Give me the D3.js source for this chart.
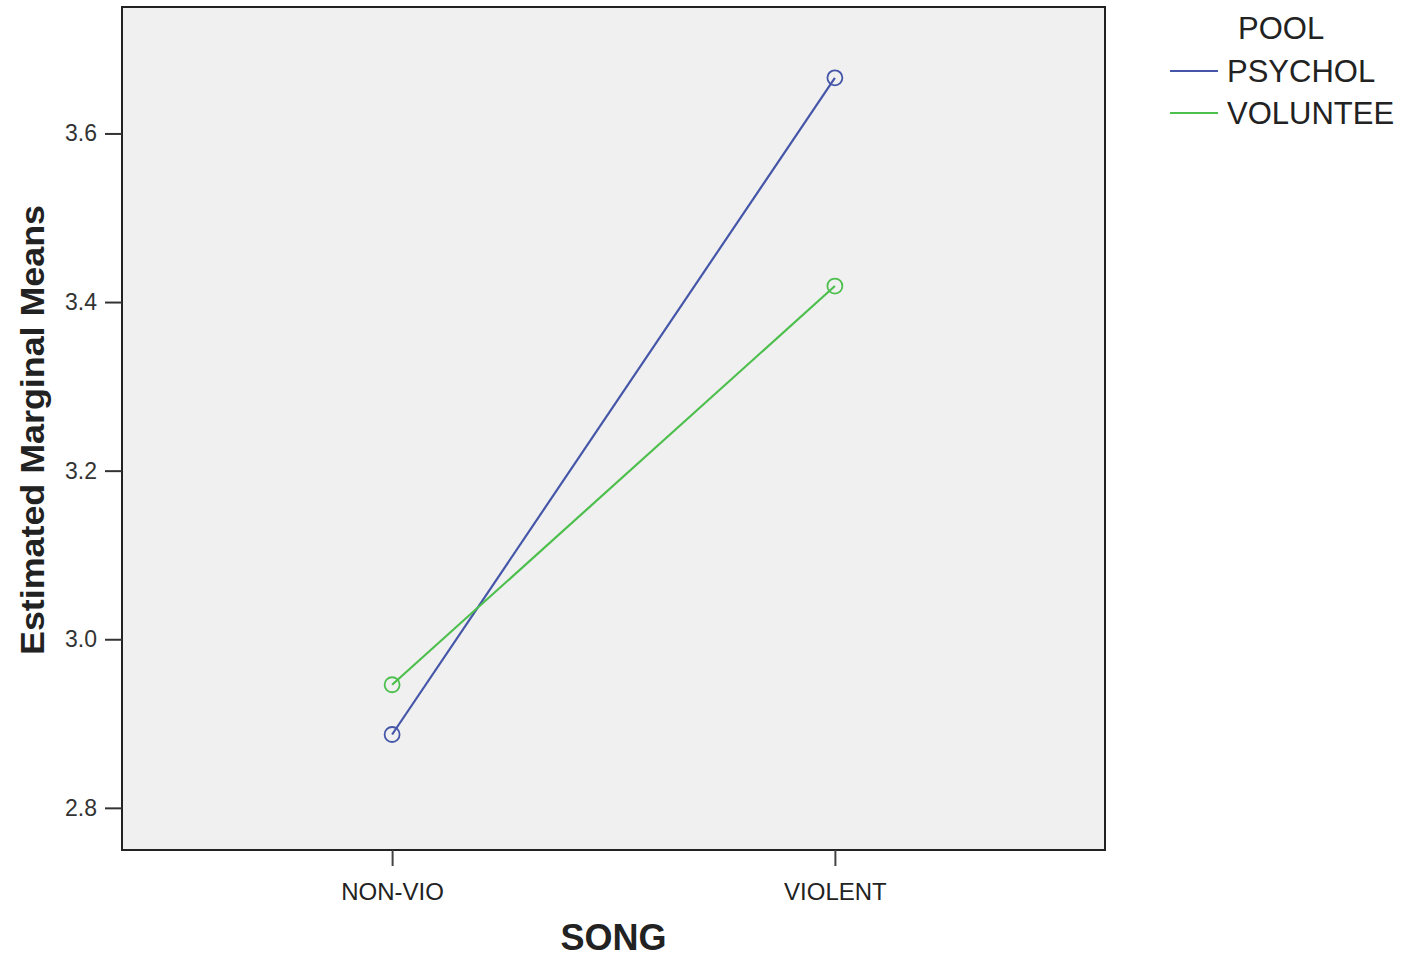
<!DOCTYPE html>
<html><head><meta charset="utf-8">
<script src="https://cdn.jsdelivr.net/npm/d3@7"></script>
<style>body{margin:0;background:#fff}svg{display:block}text{font-family:"Liberation Sans",Arial,sans-serif}</style>
</head><body>
<svg id="c" width="1409" height="957"></svg>
<script>
const categories = ["NON-VIO", "VIOLENT"];
const seriesNames = ["PSYCHOL", "VOLUNTEE"];
const psycholValues = [2.887, 3.666];
const volunteeValues = [2.946, 3.419];
const yTicks = [2.8, 3.0, 3.2, 3.4, 3.6];
const colors = ["#4556a8", "#4cbf4c"];

const svg = d3.select("#c");
const L = 122, T = 7, R = 1105, B = 850;
const x = d3.scalePoint().domain(categories).range([L, R]).padding(0.61);
const y = d3.scaleLinear().domain([2.75, 3.75]).range([B, T]);

svg.append("rect").attr("x", L).attr("y", T).attr("width", R - L).attr("height", B - T)
  .attr("fill", "#f0f0f0").attr("stroke", "#222").attr("stroke-width", 2);

const yAxis = svg.append("g").attr("transform", `translate(${L},0)`)
  .call(d3.axisLeft(y).tickValues(yTicks).tickFormat(d3.format(".1f")).tickSize(17).tickPadding(8));
yAxis.select(".domain").remove();
yAxis.selectAll("line").attr("stroke", "#333").attr("stroke-width", 2);
yAxis.selectAll("text").attr("font-size", 23).attr("fill", "#333").attr("font-family", "Liberation Sans, Arial, sans-serif");

const xAxis = svg.append("g").attr("transform", `translate(0,${B})`)
  .call(d3.axisBottom(x).tickSize(16).tickPadding(14));
xAxis.select(".domain").remove();
xAxis.selectAll("line").attr("stroke", "#444").attr("stroke-width", 2);
xAxis.selectAll("text").attr("font-size", 24).attr("fill", "#222").attr("dy", null).attr("y", 50)
  .attr("font-family", "Liberation Sans, Arial, sans-serif");

const series = [psycholValues, volunteeValues];
const line = d3.line().x((d, i) => x(categories[i])).y(d => y(d));
series.forEach((vals, s) => {
  svg.append("path").attr("d", line(vals)).attr("fill", "none")
    .attr("stroke", colors[s]).attr("stroke-width", 2.2);
  svg.selectAll(null).data(vals).enter().append("circle")
    .attr("cx", (d, i) => x(categories[i])).attr("cy", d => y(d)).attr("r", 7.5)
    .attr("fill", "none").attr("stroke", colors[s]).attr("stroke-width", 1.8);
});

svg.append("text").attr("x", (L + R) / 2).attr("y", 950).attr("text-anchor", "middle")
  .attr("font-size", 36).attr("font-weight", "bold").attr("fill", "#222").text("SONG");
svg.append("text").attr("transform", "translate(44,430) rotate(-90)").attr("text-anchor", "middle")
  .attr("font-size", 34).attr("font-weight", "bold").attr("fill", "#222")
  .attr("textLength", 450).attr("lengthAdjust", "spacingAndGlyphs").text("Estimated Marginal Means");

// legend
svg.append("text").attr("x", 1238).attr("y", 39).attr("font-size", 31).attr("fill", "#222").text("POOL");
seriesNames.forEach((n, i) => {
  const yy = 71 + i * 42;
  svg.append("line").attr("x1", 1170).attr("x2", 1218).attr("y1", yy).attr("y2", yy)
    .attr("stroke", colors[i]).attr("stroke-width", 1.8);
  svg.append("text").attr("x", 1227).attr("y", yy + 11).attr("font-size", 31).attr("fill", "#222").text(n);
});
</script>
</body></html>
